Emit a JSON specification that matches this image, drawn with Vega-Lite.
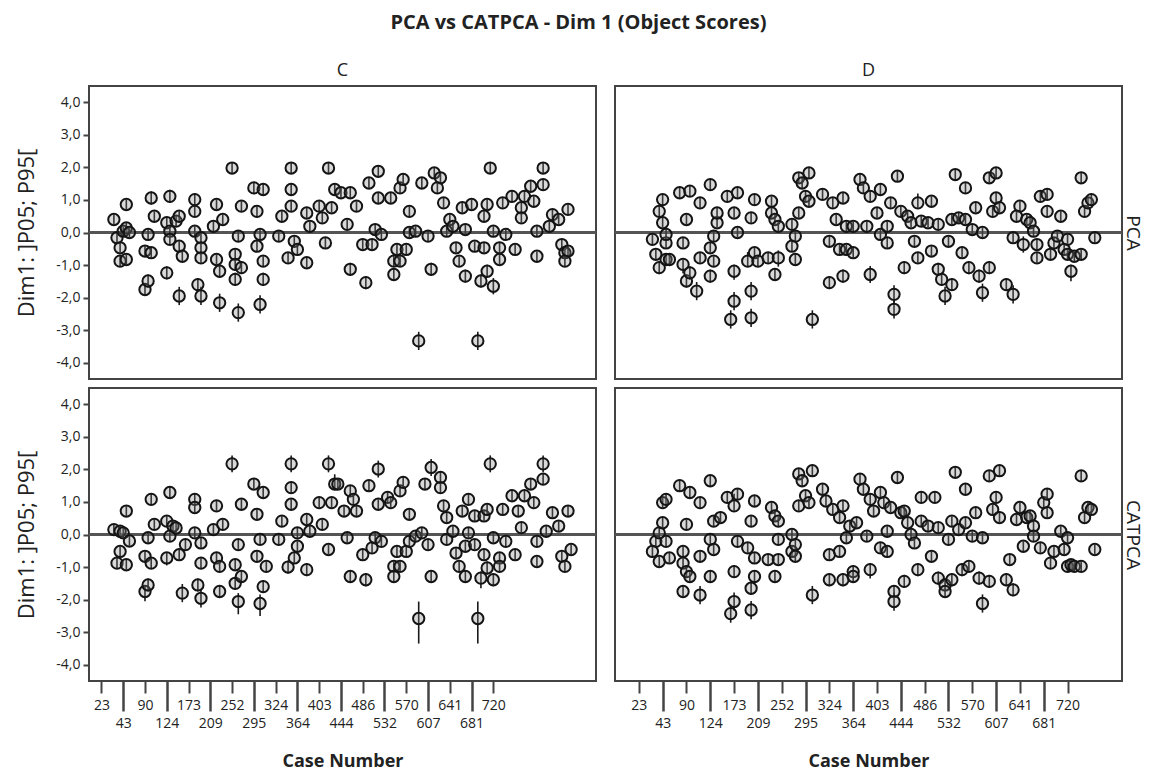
{
"$schema": "https://vega.github.io/schema/vega-lite/v6.json",
"background": "white",
"padding": {"top": 13, "left": 14, "right": 6, "bottom": 2},
"title": {"text": "PCA vs CATPCA - Dim 1 (Object Scores)", "anchor": "middle", "frame": "bounds", "fontSize": 20, "fontWeight": "bold", "color": "#222", "offset": 28},
"config": {"font": "Open Sans", "view": {"stroke": "#444", "strokeWidth": 2}, "axis": {"labelOverlap": false, "labelFlush": false}, "locale": {"number": {"decimal": ",", "thousands": ".", "grouping": [3], "currency": ["", ""], "minus": "-"}}},
"spacing": 7,
"datasets": {
"cpca": [
{"case":8,"score":0.40,"lo":0.25,"hi":0.55},{"case":9,"score":-0.16,"lo":-0.31,"hi":-0.01},{"case":10,"score":-0.47,"lo":-0.62,"hi":-0.32},{"case":10,"score":-0.88,"lo":-1.03,"hi":-0.73},{"case":11,"score":0.04,"lo":-0.11,"hi":0.19},{"case":12,"score":0.14,"lo":-0.01,"hi":0.29},{"case":12,"score":0.86,"lo":0.71,"hi":1.01},{"case":12,"score":-0.83,"lo":-0.98,"hi":-0.68},{"case":13,"score":0.00,"lo":-0.15,"hi":0.15},
{"case":18,"score":-0.57,"lo":-0.72,"hi":-0.42},{"case":19,"score":-0.06,"lo":-0.21,"hi":0.09},{"case":18,"score":-1.75,"lo":-1.95,"hi":-1.55},{"case":19,"score":-1.49,"lo":-1.69,"hi":-1.29},{"case":20,"score":1.06,"lo":0.86,"hi":1.26},{"case":20,"score":-0.62,"lo":-0.77,"hi":-0.47},{"case":21,"score":0.50,"lo":0.35,"hi":0.65},
{"case":25,"score":-1.24,"lo":-1.44,"hi":-1.04},{"case":26,"score":1.11,"lo":0.91,"hi":1.31},{"case":25,"score":0.30,"lo":0.15,"hi":0.45},{"case":26,"score":0.04,"lo":-0.11,"hi":0.19},{"case":26,"score":-0.21,"lo":-0.36,"hi":-0.06},{"case":28,"score":0.35,"lo":0.20,"hi":0.50},{"case":29,"score":0.50,"lo":0.35,"hi":0.65},{"case":29,"score":-0.42,"lo":-0.57,"hi":-0.27},{"case":30,"score":-0.73,"lo":-0.88,"hi":-0.58},{"case":29,"score":-1.95,"lo":-2.23,"hi":-1.67},
{"case":34,"score":0.04,"lo":-0.11,"hi":0.19},{"case":34,"score":1.01,"lo":0.81,"hi":1.21},{"case":34,"score":0.65,"lo":0.50,"hi":0.80},{"case":35,"score":-1.60,"lo":-1.80,"hi":-1.40},{"case":36,"score":-0.16,"lo":-0.31,"hi":-0.01},{"case":36,"score":-0.47,"lo":-0.62,"hi":-0.32},{"case":36,"score":-0.78,"lo":-0.93,"hi":-0.63},{"case":36,"score":-1.95,"lo":-2.23,"hi":-1.67},
{"case":40,"score":0.19,"lo":0.04,"hi":0.34},{"case":41,"score":0.86,"lo":0.71,"hi":1.01},{"case":41,"score":-0.83,"lo":-0.98,"hi":-0.68},{"case":42,"score":-1.19,"lo":-1.39,"hi":-0.99},{"case":43,"score":0.40,"lo":0.25,"hi":0.55},{"case":42,"score":-2.16,"lo":-2.44,"hi":-1.88},
{"case":46,"score":1.98,"lo":1.81,"hi":2.15},{"case":47,"score":-0.67,"lo":-0.82,"hi":-0.52},{"case":47,"score":-0.98,"lo":-1.13,"hi":-0.83},{"case":47,"score":-1.44,"lo":-1.64,"hi":-1.24},{"case":48,"score":-0.11,"lo":-0.26,"hi":0.04},{"case":48,"score":-2.46,"lo":-2.74,"hi":-2.18},{"case":49,"score":0.81,"lo":0.66,"hi":0.96},{"case":49,"score":-1.08,"lo":-1.28,"hi":-0.88},
{"case":53,"score":1.37,"lo":1.20,"hi":1.54},{"case":56,"score":1.32,"lo":1.15,"hi":1.49},{"case":54,"score":0.65,"lo":0.50,"hi":0.80},{"case":54,"score":-0.42,"lo":-0.57,"hi":-0.27},{"case":55,"score":-0.06,"lo":-0.21,"hi":0.09},{"case":56,"score":-0.88,"lo":-1.03,"hi":-0.73},{"case":56,"score":-1.44,"lo":-1.64,"hi":-1.24},{"case":55,"score":-2.21,"lo":-2.49,"hi":-1.93},
{"case":61,"score":-0.11,"lo":-0.26,"hi":0.04},{"case":62,"score":0.50,"lo":0.35,"hi":0.65},{"case":64,"score":-0.78,"lo":-0.93,"hi":-0.63},{"case":65,"score":1.98,"lo":1.81,"hi":2.15},{"case":65,"score":1.32,"lo":1.15,"hi":1.49},{"case":65,"score":0.81,"lo":0.66,"hi":0.96},{"case":66,"score":-0.27,"lo":-0.42,"hi":-0.12},{"case":67,"score":-0.52,"lo":-0.67,"hi":-0.37},
{"case":70,"score":0.60,"lo":0.45,"hi":0.75},{"case":70,"score":-0.93,"lo":-1.08,"hi":-0.78},{"case":71,"score":0.19,"lo":0.04,"hi":0.34},{"case":74,"score":0.81,"lo":0.66,"hi":0.96},{"case":75,"score":0.45,"lo":0.30,"hi":0.60},{"case":77,"score":1.98,"lo":1.81,"hi":2.15},{"case":76,"score":-0.32,"lo":-0.47,"hi":-0.17},{"case":78,"score":0.76,"lo":0.61,"hi":0.91},{"case":79,"score":1.32,"lo":1.15,"hi":1.49},{"case":81,"score":1.22,"lo":1.05,"hi":1.39},{"case":83,"score":0.25,"lo":0.10,"hi":0.40},{"case":84,"score":-1.13,"lo":-1.33,"hi":-0.93},
{"case":84,"score":1.22,"lo":1.05,"hi":1.39},{"case":86,"score":0.81,"lo":0.66,"hi":0.96},{"case":89,"score":-1.54,"lo":-1.74,"hi":-1.34},{"case":88,"score":-0.37,"lo":-0.52,"hi":-0.22},{"case":91,"score":-0.37,"lo":-0.52,"hi":-0.22},{"case":90,"score":1.52,"lo":1.35,"hi":1.69},{"case":93,"score":1.88,"lo":1.71,"hi":2.05},{"case":92,"score":0.09,"lo":-0.06,"hi":0.24},{"case":94,"score":-0.06,"lo":-0.21,"hi":0.09},{"case":93,"score":1.06,"lo":0.89,"hi":1.23},{"case":97,"score":1.06,"lo":0.89,"hi":1.23},{"case":98,"score":-0.88,"lo":-1.03,"hi":-0.73},{"case":99,"score":-0.52,"lo":-0.67,"hi":-0.37},{"case":98,"score":-1.29,"lo":-1.49,"hi":-1.09},{"case":100,"score":-0.88,"lo":-1.03,"hi":-0.73},{"case":100,"score":1.37,"lo":1.20,"hi":1.54},{"case":101,"score":1.63,"lo":1.46,"hi":1.80},{"case":102,"score":-0.52,"lo":-0.67,"hi":-0.37},{"case":103,"score":0.65,"lo":0.50,"hi":0.80},{"case":103,"score":0.00,"lo":-0.15,"hi":0.15},{"case":105,"score":0.04,"lo":-0.11,"hi":0.19},{"case":106,"score":-3.33,"lo":-3.61,"hi":-3.05},{"case":107,"score":1.52,"lo":1.35,"hi":1.69},{"case":109,"score":-0.11,"lo":-0.26,"hi":0.04},{"case":110,"score":-1.13,"lo":-1.33,"hi":-0.93},{"case":111,"score":1.83,"lo":1.66,"hi":2.00},{"case":113,"score":1.68,"lo":1.51,"hi":1.85},{"case":112,"score":1.37,"lo":1.20,"hi":1.54},{"case":114,"score":0.91,"lo":0.76,"hi":1.06},{"case":115,"score":0.04,"lo":-0.11,"hi":0.19},{"case":116,"score":0.40,"lo":0.25,"hi":0.55},{"case":117,"score":0.19,"lo":0.04,"hi":0.34},{"case":118,"score":-0.47,"lo":-0.62,"hi":-0.32},{"case":119,"score":-0.88,"lo":-1.03,"hi":-0.73},{"case":120,"score":0.76,"lo":0.61,"hi":0.91},{"case":121,"score":-1.34,"lo":-1.54,"hi":-1.14},{"case":121,"score":0.09,"lo":-0.06,"hi":0.24},{"case":123,"score":0.86,"lo":0.71,"hi":1.01},{"case":124,"score":-0.42,"lo":-0.57,"hi":-0.27},{"case":125,"score":-3.33,"lo":-3.61,"hi":-3.05},{"case":127,"score":0.50,"lo":0.35,"hi":0.65},{"case":127,"score":-0.47,"lo":-0.62,"hi":-0.32},{"case":126,"score":-1.49,"lo":-1.69,"hi":-1.29},{"case":128,"score":-1.19,"lo":-1.39,"hi":-0.99},{"case":129,"score":1.98,"lo":1.81,"hi":2.15},{"case":128,"score":0.86,"lo":0.71,"hi":1.01},{"case":130,"score":-1.65,"lo":-1.90,"hi":-1.40},{"case":130,"score":0.04,"lo":-0.11,"hi":0.19},{"case":132,"score":-0.47,"lo":-0.62,"hi":-0.32},{"case":132,"score":-0.83,"lo":-0.98,"hi":-0.68},{"case":133,"score":0.91,"lo":0.76,"hi":1.06},{"case":134,"score":-0.06,"lo":-0.21,"hi":0.09},{"case":136,"score":1.11,"lo":0.94,"hi":1.28},{"case":137,"score":-0.52,"lo":-0.67,"hi":-0.37},{"case":139,"score":0.76,"lo":0.61,"hi":0.91},{"case":139,"score":0.45,"lo":0.30,"hi":0.60},{"case":140,"score":1.11,"lo":0.94,"hi":1.28},{"case":142,"score":1.42,"lo":1.25,"hi":1.59},{"case":143,"score":0.96,"lo":0.81,"hi":1.11},{"case":144,"score":-0.73,"lo":-0.88,"hi":-0.58},{"case":144,"score":0.04,"lo":-0.11,"hi":0.19},{"case":146,"score":1.98,"lo":1.81,"hi":2.15},{"case":146,"score":1.47,"lo":1.30,"hi":1.64},{"case":148,"score":0.19,"lo":0.04,"hi":0.34},{"case":149,"score":0.55,"lo":0.40,"hi":0.70},{"case":151,"score":0.40,"lo":0.25,"hi":0.55},{"case":152,"score":-0.37,"lo":-0.52,"hi":-0.22},{"case":153,"score":-0.62,"lo":-0.77,"hi":-0.47},{"case":154,"score":-0.57,"lo":-0.72,"hi":-0.42},{"case":154,"score":0.71,"lo":0.56,"hi":0.86},{"case":153,"score":-0.88,"lo":-1.03,"hi":-0.73}
],
"ccat": [
{"case":8,"score":0.15,"lo":0.00,"hi":0.30},{"case":10,"score":0.10,"lo":-0.05,"hi":0.25},{"case":10,"score":-0.52,"lo":-0.67,"hi":-0.37},{"case":9,"score":-0.88,"lo":-1.03,"hi":-0.73},{"case":12,"score":-0.93,"lo":-1.08,"hi":-0.78},{"case":11,"score":0.05,"lo":-0.10,"hi":0.20},{"case":13,"score":-0.20,"lo":-0.35,"hi":-0.05},{"case":12,"score":0.72,"lo":0.57,"hi":0.87},
{"case":18,"score":-0.67,"lo":-0.82,"hi":-0.52},{"case":19,"score":-0.10,"lo":-0.25,"hi":0.05},{"case":18,"score":-1.75,"lo":-2.05,"hi":-1.55},{"case":19,"score":-1.55,"lo":-1.75,"hi":-1.35},{"case":20,"score":1.08,"lo":0.91,"hi":1.25},{"case":21,"score":0.31,"lo":0.16,"hi":0.46},{"case":20,"score":-0.88,"lo":-1.03,"hi":-0.73},
{"case":25,"score":-0.72,"lo":-0.95,"hi":-0.57},{"case":25,"score":0.41,"lo":0.26,"hi":0.56},{"case":26,"score":1.29,"lo":1.12,"hi":1.46},{"case":26,"score":-0.05,"lo":-0.20,"hi":0.10},{"case":27,"score":0.26,"lo":0.11,"hi":0.41},{"case":28,"score":0.20,"lo":0.05,"hi":0.35},{"case":29,"score":-0.62,"lo":-0.77,"hi":-0.47},{"case":30,"score":-1.80,"lo":-2.08,"hi":-1.52},{"case":31,"score":-0.31,"lo":-0.46,"hi":-0.16},
{"case":34,"score":0.05,"lo":-0.10,"hi":0.20},{"case":34,"score":1.08,"lo":0.91,"hi":1.25},{"case":34,"score":0.83,"lo":0.68,"hi":0.98},{"case":35,"score":-1.55,"lo":-1.75,"hi":-1.35},{"case":36,"score":-0.88,"lo":-1.03,"hi":-0.73},{"case":36,"score":-0.26,"lo":-0.41,"hi":-0.11},{"case":36,"score":-1.96,"lo":-2.24,"hi":-1.68},
{"case":40,"score":0.15,"lo":0.00,"hi":0.30},{"case":41,"score":0.88,"lo":0.73,"hi":1.03},{"case":41,"score":-0.72,"lo":-0.87,"hi":-0.57},{"case":42,"score":-1.75,"lo":-1.95,"hi":-1.55},{"case":42,"score":-0.98,"lo":-1.13,"hi":-0.83},{"case":43,"score":0.31,"lo":0.16,"hi":0.46},
{"case":46,"score":2.17,"lo":1.91,"hi":2.43},{"case":47,"score":-0.93,"lo":-1.08,"hi":-0.78},{"case":47,"score":-1.50,"lo":-1.70,"hi":-1.30},{"case":48,"score":-0.31,"lo":-0.46,"hi":-0.16},{"case":48,"score":-2.06,"lo":-2.45,"hi":-1.80},{"case":49,"score":0.93,"lo":0.78,"hi":1.08},{"case":49,"score":-1.29,"lo":-1.49,"hi":-1.09},
{"case":53,"score":1.55,"lo":1.38,"hi":1.72},{"case":56,"score":1.29,"lo":1.12,"hi":1.46},{"case":54,"score":0.62,"lo":0.47,"hi":0.77},{"case":54,"score":-0.67,"lo":-0.82,"hi":-0.52},{"case":55,"score":-0.15,"lo":-0.30,"hi":0.00},{"case":57,"score":-0.98,"lo":-1.13,"hi":-0.83},{"case":56,"score":-1.60,"lo":-1.80,"hi":-1.40},{"case":55,"score":-2.12,"lo":-2.50,"hi":-1.84},
{"case":61,"score":-0.15,"lo":-0.30,"hi":0.00},{"case":62,"score":0.41,"lo":0.26,"hi":0.56},{"case":64,"score":-1.00,"lo":-1.20,"hi":-0.80},{"case":65,"score":2.17,"lo":1.91,"hi":2.43},{"case":65,"score":1.44,"lo":1.27,"hi":1.61},{"case":65,"score":0.93,"lo":0.78,"hi":1.08},{"case":67,"score":0.05,"lo":-0.10,"hi":0.20},{"case":67,"score":-0.36,"lo":-0.51,"hi":-0.21},{"case":66,"score":-0.72,"lo":-0.87,"hi":-0.57},
{"case":70,"score":0.46,"lo":0.31,"hi":0.61},{"case":70,"score":-1.08,"lo":-1.28,"hi":-0.88},{"case":71,"score":0.10,"lo":-0.05,"hi":0.25},{"case":74,"score":0.98,"lo":0.83,"hi":1.13},{"case":75,"score":0.31,"lo":0.16,"hi":0.46},{"case":77,"score":2.17,"lo":1.91,"hi":2.43},{"case":77,"score":-0.46,"lo":-0.61,"hi":-0.31},{"case":78,"score":0.98,"lo":0.83,"hi":1.13},{"case":79,"score":1.55,"lo":1.38,"hi":1.85},{"case":82,"score":0.72,"lo":0.57,"hi":0.87},{"case":83,"score":-0.10,"lo":-0.25,"hi":0.05},{"case":84,"score":-1.29,"lo":-1.49,"hi":-1.09},
{"case":80,"score":1.55,"lo":1.38,"hi":1.72},{"case":84,"score":1.34,"lo":1.17,"hi":1.51},{"case":85,"score":1.08,"lo":0.91,"hi":1.25},{"case":86,"score":0.72,"lo":0.57,"hi":0.87},{"case":89,"score":-1.39,"lo":-1.59,"hi":-1.19},{"case":88,"score":-0.62,"lo":-0.77,"hi":-0.47},{"case":91,"score":-0.41,"lo":-0.56,"hi":-0.26},{"case":90,"score":1.50,"lo":1.33,"hi":1.67},{"case":93,"score":2.01,"lo":1.75,"hi":2.27},{"case":92,"score":-0.10,"lo":-0.25,"hi":0.05},{"case":94,"score":-0.21,"lo":-0.36,"hi":-0.06},{"case":93,"score":0.93,"lo":0.78,"hi":1.08},{"case":96,"score":1.14,"lo":0.97,"hi":1.31},{"case":97,"score":0.98,"lo":0.83,"hi":1.13},{"case":98,"score":-0.98,"lo":-1.13,"hi":-0.83},{"case":99,"score":-0.52,"lo":-0.67,"hi":-0.37},{"case":98,"score":-1.29,"lo":-1.49,"hi":-1.09},{"case":100,"score":-0.98,"lo":-1.13,"hi":-0.83},{"case":100,"score":1.34,"lo":1.17,"hi":1.51},{"case":101,"score":1.60,"lo":1.43,"hi":1.77},{"case":102,"score":-0.52,"lo":-0.67,"hi":-0.37},{"case":103,"score":0.62,"lo":0.47,"hi":0.77},{"case":103,"score":-0.21,"lo":-0.36,"hi":-0.06},{"case":105,"score":-0.05,"lo":-0.20,"hi":0.10},{"case":106,"score":-2.58,"lo":-3.35,"hi":-2.06},{"case":107,"score":0.05,"lo":-0.10,"hi":0.20},{"case":108,"score":1.55,"lo":1.38,"hi":1.72},{"case":109,"score":-0.31,"lo":-0.46,"hi":-0.16},{"case":110,"score":-1.29,"lo":-1.49,"hi":-1.09},{"case":110,"score":2.06,"lo":1.80,"hi":2.32},{"case":113,"score":1.75,"lo":1.58,"hi":1.92},{"case":113,"score":1.44,"lo":1.27,"hi":1.61},{"case":114,"score":0.88,"lo":0.73,"hi":1.03},{"case":115,"score":-0.15,"lo":-0.30,"hi":0.00},{"case":115,"score":0.52,"lo":0.37,"hi":0.67},{"case":117,"score":0.10,"lo":-0.05,"hi":0.25},{"case":118,"score":-0.57,"lo":-0.72,"hi":-0.42},{"case":119,"score":-0.98,"lo":-1.13,"hi":-0.83},{"case":120,"score":0.72,"lo":0.57,"hi":0.87},{"case":122,"score":1.08,"lo":0.91,"hi":1.25},{"case":121,"score":-1.29,"lo":-1.49,"hi":-1.09},{"case":122,"score":0.05,"lo":-0.10,"hi":0.20},{"case":121,"score":-0.36,"lo":-0.51,"hi":-0.21},{"case":124,"score":0.57,"lo":0.42,"hi":0.72},{"case":124,"score":-0.31,"lo":-0.46,"hi":-0.16},{"case":125,"score":-2.58,"lo":-3.35,"hi":-2.06},{"case":127,"score":0.57,"lo":0.42,"hi":0.72},{"case":127,"score":-0.62,"lo":-0.77,"hi":-0.47},{"case":126,"score":-1.34,"lo":-1.65,"hi":-1.14},{"case":128,"score":-1.03,"lo":-1.23,"hi":-0.83},{"case":128,"score":0.77,"lo":0.62,"hi":0.92},{"case":129,"score":2.17,"lo":1.91,"hi":2.43},{"case":130,"score":-1.39,"lo":-1.59,"hi":-1.19},{"case":130,"score":-0.10,"lo":-0.25,"hi":0.05},{"case":132,"score":-0.72,"lo":-0.87,"hi":-0.57},{"case":132,"score":-0.98,"lo":-1.13,"hi":-0.83},{"case":133,"score":0.77,"lo":0.62,"hi":0.92},{"case":134,"score":-0.21,"lo":-0.36,"hi":-0.06},{"case":136,"score":1.19,"lo":1.02,"hi":1.36},{"case":137,"score":-0.62,"lo":-0.77,"hi":-0.47},{"case":138,"score":0.72,"lo":0.57,"hi":0.87},{"case":139,"score":0.21,"lo":0.06,"hi":0.36},{"case":140,"score":1.19,"lo":1.02,"hi":1.36},{"case":142,"score":1.55,"lo":1.38,"hi":1.72},{"case":143,"score":0.98,"lo":0.83,"hi":1.13},{"case":144,"score":-0.83,"lo":-0.98,"hi":-0.68},{"case":144,"score":-0.21,"lo":-0.36,"hi":-0.06},{"case":146,"score":2.17,"lo":1.91,"hi":2.43},{"case":146,"score":1.70,"lo":1.53,"hi":1.87},{"case":147,"score":0.10,"lo":-0.05,"hi":0.25},{"case":149,"score":0.67,"lo":0.52,"hi":0.82},{"case":151,"score":0.26,"lo":0.11,"hi":0.41},{"case":152,"score":-0.67,"lo":-0.82,"hi":-0.52},{"case":154,"score":0.72,"lo":0.57,"hi":0.87},{"case":153,"score":-0.98,"lo":-1.13,"hi":-0.83},{"case":155,"score":-0.46,"lo":-0.61,"hi":-0.31}
],
"dpca": [
{"case":11,"score":-0.21,"lo":-0.36,"hi":-0.06},{"case":12,"score":-0.67,"lo":-0.82,"hi":-0.52},{"case":13,"score":-1.08,"lo":-1.28,"hi":-0.88},{"case":13,"score":0.65,"lo":0.50,"hi":0.80},{"case":14,"score":1.01,"lo":0.84,"hi":1.18},{"case":14,"score":0.30,"lo":0.15,"hi":0.45},{"case":15,"score":-0.83,"lo":-0.98,"hi":-0.68},{"case":15,"score":-0.32,"lo":-0.47,"hi":-0.17},{"case":15,"score":-0.06,"lo":-0.21,"hi":0.09},{"case":16,"score":-0.83,"lo":-0.98,"hi":-0.68},
{"case":19,"score":1.22,"lo":1.05,"hi":1.39},{"case":22,"score":1.27,"lo":1.10,"hi":1.44},{"case":21,"score":0.40,"lo":0.25,"hi":0.55},{"case":20,"score":-0.32,"lo":-0.47,"hi":-0.17},{"case":20,"score":-0.98,"lo":-1.25,"hi":-0.83},{"case":21,"score":-1.49,"lo":-1.69,"hi":-1.29},{"case":22,"score":-1.24,"lo":-1.44,"hi":-1.04},{"case":24,"score":-1.80,"lo":-2.08,"hi":-1.52},{"case":25,"score":0.91,"lo":0.76,"hi":1.06},{"case":25,"score":-0.78,"lo":-0.93,"hi":-0.63},
{"case":28,"score":1.47,"lo":1.30,"hi":1.64},{"case":28,"score":-0.47,"lo":-0.62,"hi":-0.32},{"case":28,"score":-1.34,"lo":-1.54,"hi":-1.14},{"case":29,"score":-0.88,"lo":-1.03,"hi":-0.73},{"case":29,"score":-0.11,"lo":-0.26,"hi":0.04},{"case":30,"score":0.30,"lo":0.15,"hi":0.45},{"case":30,"score":0.60,"lo":0.45,"hi":0.75},
{"case":33,"score":1.11,"lo":0.94,"hi":1.28},{"case":34,"score":-2.67,"lo":-2.95,"hi":-2.39},{"case":35,"score":-2.11,"lo":-2.39,"hi":-1.83},{"case":35,"score":-1.19,"lo":-1.45,"hi":-0.99},{"case":35,"score":0.60,"lo":0.45,"hi":0.75},{"case":36,"score":0.00,"lo":-0.15,"hi":0.15},{"case":36,"score":1.22,"lo":1.05,"hi":1.39},
{"case":39,"score":-0.88,"lo":-1.03,"hi":-0.60},{"case":40,"score":0.45,"lo":0.30,"hi":0.60},{"case":41,"score":1.01,"lo":0.84,"hi":1.18},{"case":40,"score":-1.80,"lo":-2.08,"hi":-1.52},{"case":40,"score":-2.62,"lo":-2.90,"hi":-2.34},{"case":41,"score":-0.62,"lo":-0.77,"hi":-0.47},{"case":42,"score":-0.88,"lo":-1.03,"hi":-0.73},
{"case":45,"score":-0.78,"lo":-0.93,"hi":-0.63},{"case":46,"score":0.96,"lo":0.81,"hi":1.11},{"case":46,"score":0.60,"lo":0.45,"hi":0.75},{"case":47,"score":-1.29,"lo":-1.49,"hi":-1.09},{"case":47,"score":0.40,"lo":0.25,"hi":0.55},{"case":48,"score":-0.78,"lo":-1.05,"hi":-0.55},{"case":48,"score":0.19,"lo":0.04,"hi":0.34},
{"case":52,"score":-0.42,"lo":-0.57,"hi":-0.27},{"case":52,"score":0.25,"lo":0.10,"hi":0.40},{"case":53,"score":-0.11,"lo":-0.26,"hi":0.04},{"case":53,"score":-0.83,"lo":-1.03,"hi":-0.63},{"case":54,"score":0.60,"lo":0.45,"hi":0.75},{"case":54,"score":1.68,"lo":1.51,"hi":1.85},{"case":55,"score":1.52,"lo":1.35,"hi":1.69},{"case":56,"score":1.11,"lo":0.94,"hi":1.28},{"case":57,"score":1.83,"lo":1.66,"hi":2.00},{"case":58,"score":-2.67,"lo":-2.95,"hi":-2.39},{"case":57,"score":0.96,"lo":0.81,"hi":1.11},
{"case":61,"score":1.17,"lo":1.00,"hi":1.34},{"case":63,"score":-1.54,"lo":-1.74,"hi":-1.34},{"case":63,"score":-0.27,"lo":-0.42,"hi":-0.12},{"case":64,"score":0.91,"lo":0.76,"hi":1.06},{"case":65,"score":0.40,"lo":0.25,"hi":0.55},{"case":66,"score":-0.52,"lo":-0.67,"hi":-0.37},{"case":67,"score":-1.34,"lo":-1.54,"hi":-1.14},{"case":67,"score":1.06,"lo":0.89,"hi":1.23},{"case":68,"score":0.19,"lo":0.04,"hi":0.34},{"case":68,"score":-0.52,"lo":-0.67,"hi":-0.37},
{"case":70,"score":-0.62,"lo":-0.77,"hi":-0.47},{"case":70,"score":0.19,"lo":0.04,"hi":0.34},{"case":72,"score":1.63,"lo":1.46,"hi":1.80},{"case":73,"score":1.37,"lo":1.20,"hi":1.54},{"case":74,"score":0.19,"lo":0.04,"hi":0.34},{"case":75,"score":-1.29,"lo":-1.55,"hi":-1.03},{"case":75,"score":1.11,"lo":0.94,"hi":1.28},{"case":77,"score":0.60,"lo":0.45,"hi":0.75},{"case":78,"score":1.32,"lo":1.15,"hi":1.49},{"case":78,"score":-0.06,"lo":-0.21,"hi":0.09},{"case":80,"score":-0.32,"lo":-0.47,"hi":-0.17},{"case":80,"score":0.19,"lo":0.04,"hi":0.34},{"case":81,"score":0.91,"lo":0.76,"hi":1.06},{"case":82,"score":-1.90,"lo":-2.18,"hi":-1.62},{"case":82,"score":-2.36,"lo":-2.64,"hi":-2.08},{"case":83,"score":1.73,"lo":1.56,"hi":1.90},{"case":84,"score":0.65,"lo":0.50,"hi":0.80},{"case":85,"score":-1.08,"lo":-1.28,"hi":-0.88},
{"case":86,"score":0.50,"lo":0.35,"hi":0.65},{"case":87,"score":0.30,"lo":0.15,"hi":0.45},{"case":88,"score":-0.27,"lo":-0.42,"hi":-0.12},{"case":89,"score":-0.78,"lo":-0.93,"hi":-0.63},{"case":89,"score":0.91,"lo":0.76,"hi":1.20},{"case":90,"score":0.35,"lo":0.20,"hi":0.50},{"case":92,"score":0.30,"lo":0.15,"hi":0.45},{"case":93,"score":-0.57,"lo":-0.72,"hi":-0.42},{"case":93,"score":0.96,"lo":0.81,"hi":1.11},{"case":95,"score":0.25,"lo":0.10,"hi":0.40},{"case":95,"score":-1.13,"lo":-1.33,"hi":-0.93},{"case":96,"score":-1.44,"lo":-1.64,"hi":-1.24},{"case":97,"score":-1.95,"lo":-2.23,"hi":-1.67},{"case":98,"score":-0.27,"lo":-0.42,"hi":-0.12},{"case":99,"score":-1.60,"lo":-1.80,"hi":-1.40},{"case":99,"score":0.40,"lo":0.25,"hi":0.55},{"case":100,"score":1.78,"lo":1.61,"hi":1.95},{"case":101,"score":0.45,"lo":0.30,"hi":0.60},{"case":102,"score":-0.62,"lo":-0.77,"hi":-0.47},{"case":103,"score":1.37,"lo":1.20,"hi":1.54},{"case":103,"score":0.40,"lo":0.25,"hi":0.55},{"case":104,"score":-1.08,"lo":-1.28,"hi":-0.88},{"case":105,"score":0.09,"lo":-0.06,"hi":0.24},{"case":106,"score":0.76,"lo":0.61,"hi":0.91},{"case":107,"score":-1.34,"lo":-1.54,"hi":-1.14},{"case":108,"score":-1.85,"lo":-2.13,"hi":-1.57},{"case":108,"score":0.00,"lo":-0.15,"hi":0.15},{"case":110,"score":-1.08,"lo":-1.28,"hi":-0.88},{"case":110,"score":1.68,"lo":1.51,"hi":1.85},{"case":112,"score":1.83,"lo":1.66,"hi":2.00},{"case":111,"score":0.65,"lo":0.50,"hi":0.80},{"case":112,"score":1.06,"lo":0.89,"hi":1.23},{"case":113,"score":0.76,"lo":0.61,"hi":0.91},{"case":115,"score":-1.60,"lo":-1.80,"hi":-1.40},{"case":117,"score":-0.16,"lo":-0.31,"hi":-0.01},{"case":117,"score":-1.90,"lo":-2.18,"hi":-1.62},{"case":119,"score":0.81,"lo":0.66,"hi":0.96},{"case":118,"score":0.50,"lo":0.35,"hi":0.65},{"case":120,"score":-0.37,"lo":-0.62,"hi":-0.12},{"case":121,"score":0.40,"lo":0.25,"hi":0.55},{"case":122,"score":0.30,"lo":0.15,"hi":0.45},{"case":123,"score":0.04,"lo":-0.11,"hi":0.19},{"case":124,"score":-0.37,"lo":-0.52,"hi":-0.22},{"case":124,"score":-0.78,"lo":-0.93,"hi":-0.63},{"case":125,"score":1.11,"lo":0.94,"hi":1.28},{"case":127,"score":1.17,"lo":1.00,"hi":1.34},{"case":127,"score":0.65,"lo":0.50,"hi":0.80},{"case":128,"score":-0.67,"lo":-0.82,"hi":-0.52},{"case":129,"score":-0.32,"lo":-0.47,"hi":-0.17},{"case":130,"score":-0.11,"lo":-0.26,"hi":0.04},{"case":131,"score":0.50,"lo":0.35,"hi":0.65},{"case":132,"score":-0.52,"lo":-0.67,"hi":-0.37},{"case":133,"score":-0.21,"lo":-0.36,"hi":-0.06},{"case":133,"score":-0.67,"lo":-0.82,"hi":-0.52},{"case":134,"score":-1.19,"lo":-1.50,"hi":-0.99},{"case":135,"score":-0.73,"lo":-0.88,"hi":-0.58},{"case":137,"score":-0.67,"lo":-0.82,"hi":-0.52},{"case":137,"score":1.68,"lo":1.51,"hi":1.85},{"case":138,"score":0.65,"lo":0.50,"hi":0.80},{"case":139,"score":0.91,"lo":0.76,"hi":1.06},{"case":140,"score":1.01,"lo":0.84,"hi":1.18},{"case":141,"score":-0.16,"lo":-0.31,"hi":-0.01}
],
"dcat": [
{"case":12,"score":-0.21,"lo":-0.36,"hi":-0.06},{"case":11,"score":-0.52,"lo":-0.67,"hi":-0.37},{"case":13,"score":-0.83,"lo":-0.98,"hi":-0.68},{"case":13,"score":0.05,"lo":-0.10,"hi":0.20},{"case":14,"score":0.36,"lo":0.21,"hi":0.51},{"case":14,"score":0.98,"lo":0.83,"hi":1.13},{"case":15,"score":1.08,"lo":0.91,"hi":1.25},{"case":15,"score":-0.21,"lo":-0.36,"hi":-0.06},{"case":16,"score":-0.72,"lo":-0.87,"hi":-0.57},
{"case":19,"score":1.50,"lo":1.33,"hi":1.67},{"case":22,"score":1.29,"lo":1.12,"hi":1.46},{"case":21,"score":0.31,"lo":0.16,"hi":0.46},{"case":20,"score":-0.52,"lo":-0.67,"hi":-0.37},{"case":20,"score":-0.88,"lo":-1.03,"hi":-0.73},{"case":21,"score":-1.14,"lo":-1.34,"hi":-0.94},{"case":20,"score":-1.75,"lo":-1.95,"hi":-1.55},{"case":22,"score":-1.29,"lo":-1.49,"hi":-1.09},{"case":25,"score":-1.86,"lo":-2.14,"hi":-1.58},{"case":25,"score":0.98,"lo":0.83,"hi":1.13},{"case":25,"score":-0.67,"lo":-0.82,"hi":-0.52},
{"case":28,"score":1.65,"lo":1.48,"hi":1.82},{"case":28,"score":-0.15,"lo":-0.30,"hi":0.00},{"case":28,"score":-1.29,"lo":-1.49,"hi":-1.09},{"case":29,"score":-0.46,"lo":-0.61,"hi":-0.31},{"case":29,"score":0.41,"lo":0.26,"hi":0.56},{"case":31,"score":0.52,"lo":0.37,"hi":0.67},
{"case":33,"score":1.14,"lo":0.97,"hi":1.31},{"case":34,"score":-2.43,"lo":-2.71,"hi":-2.15},{"case":35,"score":-2.06,"lo":-2.34,"hi":-1.78},{"case":35,"score":-1.14,"lo":-1.34,"hi":-0.94},{"case":35,"score":0.88,"lo":0.73,"hi":1.25},{"case":36,"score":-0.21,"lo":-0.36,"hi":-0.06},{"case":36,"score":1.24,"lo":1.07,"hi":1.41},
{"case":39,"score":-0.41,"lo":-0.56,"hi":-0.26},{"case":40,"score":0.41,"lo":0.26,"hi":0.56},{"case":41,"score":1.03,"lo":0.86,"hi":1.20},{"case":40,"score":-1.65,"lo":-1.85,"hi":-1.45},{"case":40,"score":-2.32,"lo":-2.60,"hi":-2.04},{"case":41,"score":-1.29,"lo":-1.49,"hi":-1.09},{"case":41,"score":-0.72,"lo":-0.87,"hi":-0.57},
{"case":45,"score":-0.77,"lo":-0.92,"hi":-0.62},{"case":46,"score":0.83,"lo":0.68,"hi":0.98},{"case":47,"score":0.57,"lo":0.42,"hi":0.72},{"case":47,"score":-1.29,"lo":-1.49,"hi":-1.09},{"case":48,"score":0.41,"lo":0.26,"hi":0.56},{"case":48,"score":-0.15,"lo":-0.30,"hi":0.00},{"case":48,"score":-0.77,"lo":-0.92,"hi":-0.62},
{"case":52,"score":0.00,"lo":-0.15,"hi":0.15},{"case":52,"score":-0.52,"lo":-0.67,"hi":-0.37},{"case":53,"score":-0.31,"lo":-0.46,"hi":-0.16},{"case":53,"score":-0.67,"lo":-0.82,"hi":-0.52},{"case":54,"score":0.88,"lo":0.73,"hi":1.03},{"case":54,"score":1.86,"lo":1.69,"hi":2.03},{"case":55,"score":1.65,"lo":1.48,"hi":1.82},{"case":56,"score":1.19,"lo":1.02,"hi":1.36},{"case":58,"score":1.96,"lo":1.79,"hi":2.13},{"case":57,"score":0.98,"lo":0.83,"hi":1.13},{"case":58,"score":-1.86,"lo":-2.14,"hi":-1.58},
{"case":61,"score":1.39,"lo":1.22,"hi":1.56},{"case":62,"score":1.03,"lo":0.86,"hi":1.20},{"case":63,"score":-1.39,"lo":-1.59,"hi":-1.19},{"case":63,"score":-0.62,"lo":-0.77,"hi":-0.47},{"case":64,"score":0.77,"lo":0.62,"hi":0.92},{"case":66,"score":0.52,"lo":0.37,"hi":0.67},{"case":66,"score":-0.52,"lo":-0.67,"hi":-0.37},{"case":67,"score":-1.39,"lo":-1.59,"hi":-1.19},{"case":67,"score":0.88,"lo":0.73,"hi":1.03},{"case":68,"score":-0.10,"lo":-0.25,"hi":0.05},{"case":69,"score":0.26,"lo":0.11,"hi":0.41},
{"case":70,"score":-1.14,"lo":-1.34,"hi":-0.94},{"case":70,"score":-1.29,"lo":-1.49,"hi":-1.09},{"case":71,"score":0.36,"lo":0.21,"hi":0.51},{"case":72,"score":1.70,"lo":1.53,"hi":1.87},{"case":73,"score":1.39,"lo":1.22,"hi":1.56},{"case":74,"score":-0.05,"lo":-0.20,"hi":0.10},{"case":75,"score":-1.08,"lo":-1.35,"hi":-0.88},{"case":75,"score":1.08,"lo":0.91,"hi":1.25},{"case":76,"score":0.72,"lo":0.57,"hi":0.87},{"case":78,"score":-0.41,"lo":-0.56,"hi":-0.26},{"case":78,"score":1.29,"lo":1.12,"hi":1.46},{"case":79,"score":0.98,"lo":0.83,"hi":1.13},{"case":80,"score":0.10,"lo":-0.05,"hi":0.25},{"case":80,"score":-0.52,"lo":-0.67,"hi":-0.37},{"case":81,"score":0.83,"lo":0.68,"hi":0.98},{"case":82,"score":-1.75,"lo":-1.95,"hi":-1.55},{"case":82,"score":-2.06,"lo":-2.34,"hi":-1.78},{"case":83,"score":1.75,"lo":1.58,"hi":1.92},{"case":84,"score":0.67,"lo":0.52,"hi":0.82},{"case":85,"score":-1.44,"lo":-1.64,"hi":-1.24},
{"case":85,"score":0.72,"lo":0.57,"hi":0.87},{"case":86,"score":0.36,"lo":0.21,"hi":0.51},{"case":87,"score":0.00,"lo":-0.15,"hi":0.15},{"case":88,"score":-0.26,"lo":-0.41,"hi":-0.11},{"case":89,"score":-1.08,"lo":-1.28,"hi":-0.88},{"case":90,"score":1.14,"lo":0.97,"hi":1.31},{"case":90,"score":0.41,"lo":0.26,"hi":0.56},{"case":92,"score":0.26,"lo":0.11,"hi":0.41},{"case":93,"score":-0.67,"lo":-0.82,"hi":-0.52},{"case":94,"score":1.14,"lo":0.97,"hi":1.31},{"case":95,"score":0.21,"lo":0.06,"hi":0.36},{"case":95,"score":-1.34,"lo":-1.54,"hi":-1.14},{"case":97,"score":-1.55,"lo":-1.75,"hi":-1.35},{"case":97,"score":-1.75,"lo":-1.95,"hi":-1.55},{"case":98,"score":-0.15,"lo":-0.30,"hi":0.00},{"case":99,"score":-1.39,"lo":-1.59,"hi":-1.19},{"case":99,"score":0.41,"lo":0.26,"hi":0.56},{"case":100,"score":1.91,"lo":1.74,"hi":2.08},{"case":101,"score":0.15,"lo":0.00,"hi":0.30},{"case":102,"score":-1.08,"lo":-1.28,"hi":-0.88},{"case":103,"score":1.39,"lo":1.22,"hi":1.56},{"case":103,"score":0.36,"lo":0.21,"hi":0.51},{"case":104,"score":-0.98,"lo":-1.13,"hi":-0.83},{"case":105,"score":-0.05,"lo":-0.20,"hi":0.10},{"case":106,"score":0.67,"lo":0.52,"hi":0.82},{"case":107,"score":-1.34,"lo":-1.54,"hi":-1.14},{"case":108,"score":-2.12,"lo":-2.40,"hi":-1.84},{"case":108,"score":-0.10,"lo":-0.25,"hi":0.05},{"case":110,"score":-1.44,"lo":-1.64,"hi":-1.24},{"case":110,"score":1.80,"lo":1.63,"hi":1.97},{"case":113,"score":1.96,"lo":1.79,"hi":2.13},{"case":111,"score":0.77,"lo":0.62,"hi":0.92},{"case":112,"score":1.14,"lo":0.97,"hi":1.31},{"case":113,"score":0.52,"lo":0.37,"hi":0.67},{"case":115,"score":-1.39,"lo":-1.59,"hi":-1.19},{"case":116,"score":-0.77,"lo":-0.92,"hi":-0.62},{"case":117,"score":-1.70,"lo":-1.90,"hi":-1.50},{"case":119,"score":0.83,"lo":0.68,"hi":0.98},{"case":118,"score":0.46,"lo":0.31,"hi":0.61},{"case":120,"score":-0.36,"lo":-0.51,"hi":-0.21},{"case":121,"score":0.52,"lo":0.37,"hi":0.67},{"case":122,"score":0.57,"lo":0.42,"hi":0.72},{"case":123,"score":0.26,"lo":0.11,"hi":0.41},{"case":123,"score":-0.05,"lo":-0.20,"hi":0.10},{"case":125,"score":-0.41,"lo":-0.56,"hi":-0.26},{"case":126,"score":0.98,"lo":0.83,"hi":1.13},{"case":127,"score":1.24,"lo":1.07,"hi":1.41},{"case":127,"score":0.67,"lo":0.52,"hi":0.82},{"case":128,"score":-0.88,"lo":-1.03,"hi":-0.73},{"case":129,"score":-0.52,"lo":-0.67,"hi":-0.37},{"case":131,"score":0.10,"lo":-0.05,"hi":0.25},{"case":132,"score":-0.46,"lo":-0.61,"hi":-0.31},{"case":133,"score":-0.10,"lo":-0.25,"hi":0.05},{"case":133,"score":-0.98,"lo":-1.13,"hi":-0.83},{"case":134,"score":-0.93,"lo":-1.08,"hi":-0.78},{"case":135,"score":-0.98,"lo":-1.13,"hi":-0.83},{"case":137,"score":-0.98,"lo":-1.13,"hi":-0.83},{"case":137,"score":1.80,"lo":1.63,"hi":1.97},{"case":138,"score":0.52,"lo":0.37,"hi":0.67},{"case":139,"score":0.83,"lo":0.68,"hi":0.98},{"case":140,"score":0.77,"lo":0.62,"hi":0.92},{"case":141,"score":-0.46,"lo":-0.61,"hi":-0.31}
]
},
"vconcat": [
{"hconcat": [
{"width": 507, "height": 293, "data": {"name": "cpca"},
 "title": {"text": "C", "fontSize": 18, "fontWeight": "normal", "color": "#222", "offset": 6},
 "layer": [
  {"mark": {"type": "rule", "color": "#555", "strokeWidth": 2.5},
   "encoding": {"y": {"datum": 0, "type": "quantitative", "title": "Dim1: ]P05; P95[", "scale": {"domain": [-4.5, 4.5], "nice": false},
     "axis": {"values": [-4,-3,-2,-1,0,1,2,3,4], "format": ".1f", "tickSize": 6, "tickWidth": 2, "tickColor": "#444", "labelPadding": 3, "labelFontSize": 14, "labelColor": "#222", "labelOverlap": false, "titleFontSize": 22, "titleFontWeight": "normal", "titleColor": "#222", "titlePadding": 17, "domain": false, "grid": false}}}},
  {"mark": {"type": "rule", "color": "#1a1a1a", "strokeWidth": 1.6},
   "encoding": {"x": {"field": "case", "type": "quantitative", "scale": {"domain": [0, 163], "nice": false, "zero": false}, "axis": null},
    "y": {"field": "lo", "type": "quantitative", "title": "Dim1: ]P05; P95[",
     "axis": {"values": [-4,-3,-2,-1,0,1,2,3,4], "format": ".1f", "tickSize": 6, "tickWidth": 2, "tickColor": "#444", "labelPadding": 3, "labelFontSize": 14, "labelColor": "#222", "labelOverlap": false, "titleFontSize": 22, "titleFontWeight": "normal", "titleColor": "#222", "titlePadding": 17, "domain": false, "grid": false}},
    "y2": {"field": "hi"}}},
  {"mark": {"type": "point", "shape": "circle", "filled": false, "stroke": "#141414", "strokeWidth": 2, "size": 128, "fill": "#808080", "fillOpacity": 0.3, "opacity": 1},
   "encoding": {"x": {"field": "case", "type": "quantitative", "axis": null}, "y": {"field": "score", "type": "quantitative", "title": "Dim1: ]P05; P95[",
     "axis": {"values": [-4,-3,-2,-1,0,1,2,3,4], "format": ".1f", "tickSize": 6, "tickWidth": 2, "tickColor": "#444", "labelPadding": 3, "labelFontSize": 14, "labelColor": "#222", "labelOverlap": false, "titleFontSize": 22, "titleFontWeight": "normal", "titleColor": "#222", "titlePadding": 17, "domain": false, "grid": false}}}}
 ]},
{"width": 507, "height": 293, "data": {"name": "dpca"},
 "title": {"text": "D", "fontSize": 18, "fontWeight": "normal", "color": "#222", "offset": 6},
 "layer": [
  {"mark": {"type": "rule", "color": "#555", "strokeWidth": 2.5},
   "encoding": {"y": {"datum": 0, "type": "quantitative", "title": "PCA", "scale": {"domain": [-4.5, 4.5], "nice": false},
     "axis": {"orient": "right", "labels": false, "ticks": false, "domain": false, "grid": false, "titleAngle": 90, "titleFontSize": 19, "titleFontWeight": "normal", "titleColor": "#222", "titlePadding": 0}}}},
  {"mark": {"type": "rule", "color": "#1a1a1a", "strokeWidth": 1.6},
   "encoding": {"x": {"field": "case", "type": "quantitative", "scale": {"domain": [0, 149], "nice": false, "zero": false}, "axis": null},
    "y": {"field": "lo", "type": "quantitative", "title": "PCA",
     "axis": {"orient": "right", "labels": false, "ticks": false, "domain": false, "grid": false, "titleAngle": 90, "titleFontSize": 19, "titleFontWeight": "normal", "titleColor": "#222", "titlePadding": 0}},
    "y2": {"field": "hi"}}},
  {"mark": {"type": "point", "shape": "circle", "filled": false, "stroke": "#141414", "strokeWidth": 2, "size": 128, "fill": "#808080", "fillOpacity": 0.3, "opacity": 1},
   "encoding": {"x": {"field": "case", "type": "quantitative", "axis": null}, "y": {"field": "score", "type": "quantitative", "title": "PCA",
     "axis": {"orient": "right", "labels": false, "ticks": false, "domain": false, "grid": false, "titleAngle": 90, "titleFontSize": 19, "titleFontWeight": "normal", "titleColor": "#222", "titlePadding": 0}}}}
 ]}
], "spacing": 13},
{"hconcat": [
{"width": 507, "height": 293, "data": {"name": "ccat"},
 "layer": [
  {"mark": {"type": "rule", "color": "#555", "strokeWidth": 2.5},
   "encoding": {"y": {"datum": 0, "type": "quantitative", "title": "Dim1: ]P05; P95[", "scale": {"domain": [-4.5, 4.5], "nice": false},
     "axis": {"values": [-4,-3,-2,-1,0,1,2,3,4], "format": ".1f", "tickSize": 6, "tickWidth": 2, "tickColor": "#444", "labelPadding": 3, "labelFontSize": 14, "labelColor": "#222", "labelOverlap": false, "titleFontSize": 22, "titleFontWeight": "normal", "titleColor": "#222", "titlePadding": 17, "domain": false, "grid": false}}}},
  {"mark": {"type": "rule", "color": "#1a1a1a", "strokeWidth": 1.6},
   "encoding": {"x": {"field": "case", "type": "quantitative", "title": "Case Number", "scale": {"domain": [0, 163], "nice": false, "zero": false},
     "axis": {"values": [4,11,18,25,32,39,46,53,60,67,74,81,88,95,102,109,116,123,130], "labelExpr": "['23','43','90','124','173','209','252','295','324','364','403','444','486','532','570','607','641','681','720'][round((datum.value-4)/7)]", "tickSize": {"condition": {"test": "(datum.value-4) % 14 == 7", "value": 30}, "value": 12}, "tickWidth": {"condition": {"test": "(datum.value-4) % 14 == 7", "value": 2.5}, "value": 2}, "tickColor": "#444", "labelPadding": 5, "labelFontSize": 14, "labelColor": "#222", "labelFlush": false, "labelOverlap": false, "titleFontSize": 18, "titleFontWeight": "bold", "titleColor": "#222", "titlePadding": 22, "domain": false, "grid": false}},
    "y": {"field": "lo", "type": "quantitative", "title": "Dim1: ]P05; P95[",
     "axis": {"values": [-4,-3,-2,-1,0,1,2,3,4], "format": ".1f", "tickSize": 6, "tickWidth": 2, "tickColor": "#444", "labelPadding": 3, "labelFontSize": 14, "labelColor": "#222", "labelOverlap": false, "titleFontSize": 22, "titleFontWeight": "normal", "titleColor": "#222", "titlePadding": 17, "domain": false, "grid": false}},
    "y2": {"field": "hi"}}},
  {"mark": {"type": "point", "shape": "circle", "filled": false, "stroke": "#141414", "strokeWidth": 2, "size": 128, "fill": "#808080", "fillOpacity": 0.3, "opacity": 1},
   "encoding": {"x": {"field": "case", "type": "quantitative", "title": "Case Number",
     "axis": {"values": [4,11,18,25,32,39,46,53,60,67,74,81,88,95,102,109,116,123,130], "labelExpr": "['23','43','90','124','173','209','252','295','324','364','403','444','486','532','570','607','641','681','720'][round((datum.value-4)/7)]", "tickSize": {"condition": {"test": "(datum.value-4) % 14 == 7", "value": 30}, "value": 12}, "tickWidth": {"condition": {"test": "(datum.value-4) % 14 == 7", "value": 2.5}, "value": 2}, "tickColor": "#444", "labelPadding": 5, "labelFontSize": 14, "labelColor": "#222", "labelFlush": false, "labelOverlap": false, "titleFontSize": 18, "titleFontWeight": "bold", "titleColor": "#222", "titlePadding": 22, "domain": false, "grid": false}},
    "y": {"field": "score", "type": "quantitative", "title": "Dim1: ]P05; P95[",
     "axis": {"values": [-4,-3,-2,-1,0,1,2,3,4], "format": ".1f", "tickSize": 6, "tickWidth": 2, "tickColor": "#444", "labelPadding": 3, "labelFontSize": 14, "labelColor": "#222", "labelOverlap": false, "titleFontSize": 22, "titleFontWeight": "normal", "titleColor": "#222", "titlePadding": 17, "domain": false, "grid": false}}}}
 ]},
{"width": 507, "height": 293, "data": {"name": "dcat"},
 "layer": [
  {"mark": {"type": "rule", "color": "#555", "strokeWidth": 2.5},
   "encoding": {"y": {"datum": 0, "type": "quantitative", "title": "CATPCA", "scale": {"domain": [-4.5, 4.5], "nice": false},
     "axis": {"orient": "right", "labels": false, "ticks": false, "domain": false, "grid": false, "titleAngle": 90, "titleFontSize": 19, "titleFontWeight": "normal", "titleColor": "#222", "titlePadding": 0}}}},
  {"mark": {"type": "rule", "color": "#1a1a1a", "strokeWidth": 1.6},
   "encoding": {"x": {"field": "case", "type": "quantitative", "title": "Case Number", "scale": {"domain": [0, 149], "nice": false, "zero": false},
     "axis": {"values": [7,14,21,28,35,42,49,56,63,70,77,84,91,98,105,112,119,126,133], "labelExpr": "['23','43','90','124','173','209','252','295','324','364','403','444','486','532','570','607','641','681','720'][round((datum.value-7)/7)]", "tickSize": {"condition": {"test": "(datum.value-7) % 14 == 7", "value": 30}, "value": 12}, "tickWidth": {"condition": {"test": "(datum.value-7) % 14 == 7", "value": 2.5}, "value": 2}, "tickColor": "#444", "labelPadding": 5, "labelFontSize": 14, "labelColor": "#222", "labelFlush": false, "labelOverlap": false, "titleFontSize": 18, "titleFontWeight": "bold", "titleColor": "#222", "titlePadding": 22, "domain": false, "grid": false}},
    "y": {"field": "lo", "type": "quantitative", "title": "CATPCA",
     "axis": {"orient": "right", "labels": false, "ticks": false, "domain": false, "grid": false, "titleAngle": 90, "titleFontSize": 19, "titleFontWeight": "normal", "titleColor": "#222", "titlePadding": 0}},
    "y2": {"field": "hi"}}},
  {"mark": {"type": "point", "shape": "circle", "filled": false, "stroke": "#141414", "strokeWidth": 2, "size": 128, "fill": "#808080", "fillOpacity": 0.3, "opacity": 1},
   "encoding": {"x": {"field": "case", "type": "quantitative", "title": "Case Number",
     "axis": {"values": [7,14,21,28,35,42,49,56,63,70,77,84,91,98,105,112,119,126,133], "labelExpr": "['23','43','90','124','173','209','252','295','324','364','403','444','486','532','570','607','641','681','720'][round((datum.value-7)/7)]", "tickSize": {"condition": {"test": "(datum.value-7) % 14 == 7", "value": 30}, "value": 12}, "tickWidth": {"condition": {"test": "(datum.value-7) % 14 == 7", "value": 2.5}, "value": 2}, "tickColor": "#444", "labelPadding": 5, "labelFontSize": 14, "labelColor": "#222", "labelFlush": false, "labelOverlap": false, "titleFontSize": 18, "titleFontWeight": "bold", "titleColor": "#222", "titlePadding": 22, "domain": false, "grid": false}},
    "y": {"field": "score", "type": "quantitative", "title": "CATPCA",
     "axis": {"orient": "right", "labels": false, "ticks": false, "domain": false, "grid": false, "titleAngle": 90, "titleFontSize": 19, "titleFontWeight": "normal", "titleColor": "#222", "titlePadding": 0}}}}
 ]}
], "spacing": 13}
]
}
